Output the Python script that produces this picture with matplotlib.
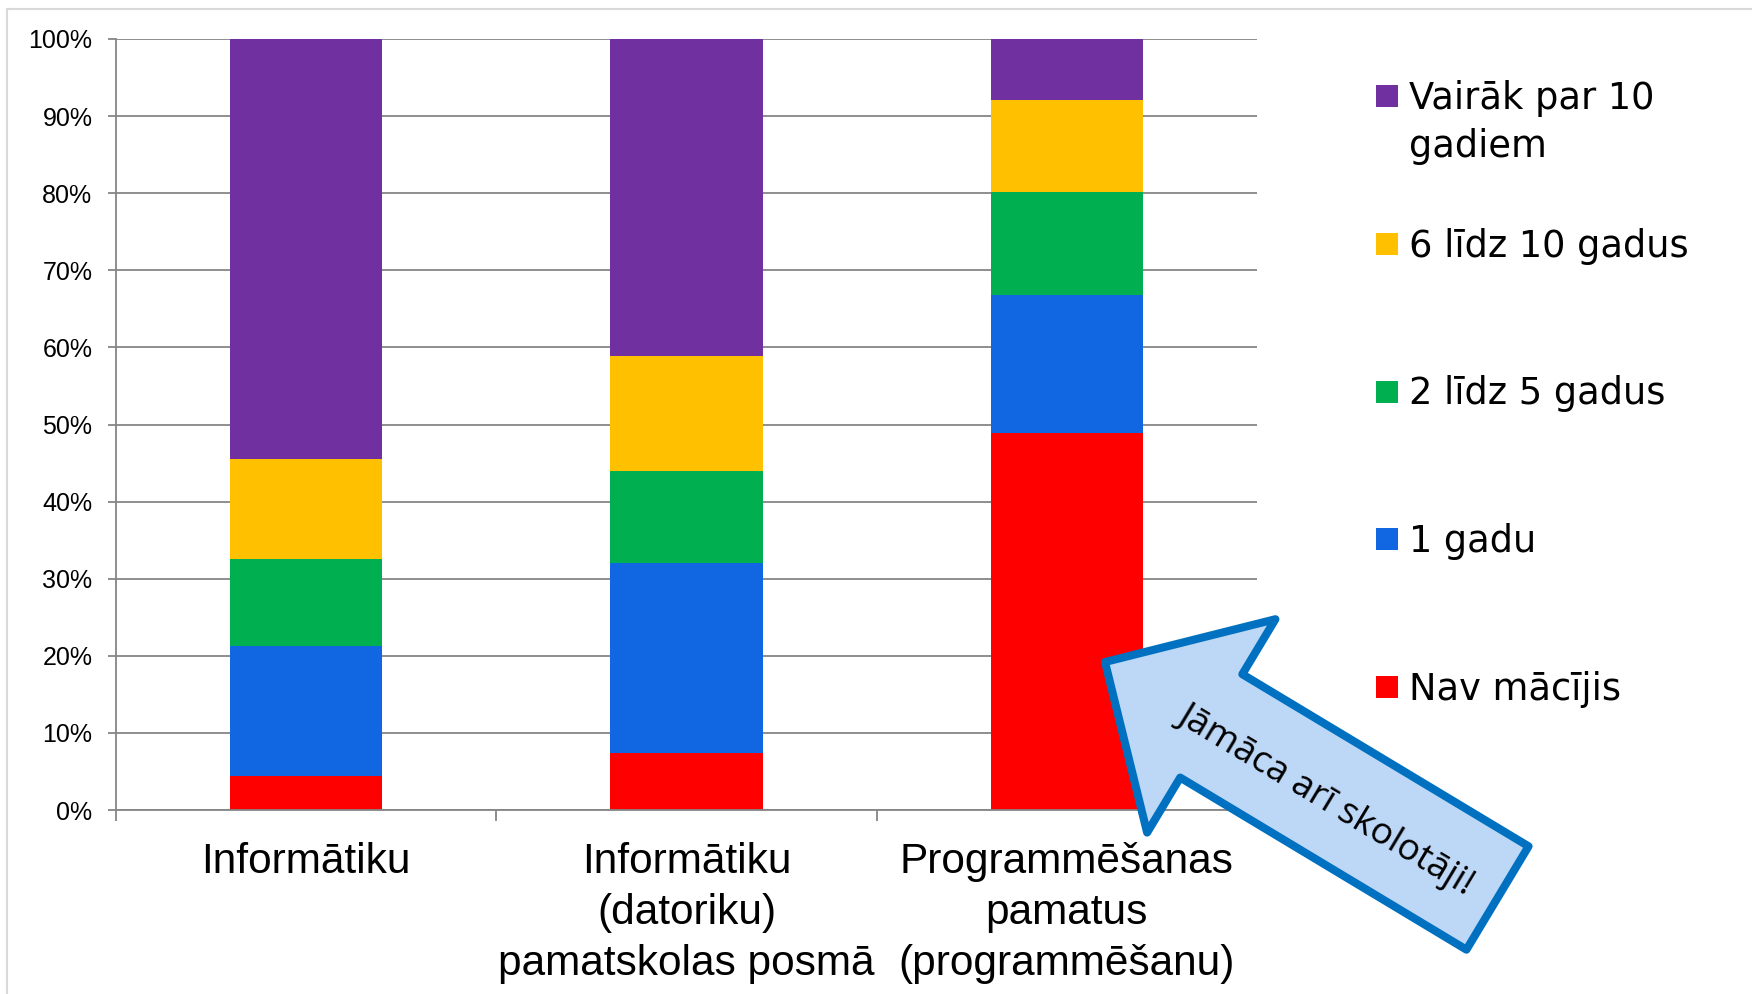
#!/usr/bin/env python3
"""
Skolotāju pieredze informātikas mācīšanā - sagrupēts 100% stabiņu grafiks
"""

import matplotlib
matplotlib.use("Agg")
import matplotlib.pyplot as plt
from matplotlib.patches import Rectangle, FancyArrow
from matplotlib.lines import Line2D

# Dati (procenti, lasīti no attēla)
CATEGORIES = ["Informātiku",
              "Informātiku\n(datoriku)\npamatskolas posmā",
              "Programmēšanas\npamatus\n(programmēšanu)"]
NAV_MACIJIS = [4.45, 7.35, 48.9]
GADS_1 = [16.8, 24.75, 17.9]
GADI_2_5 = [11.35, 11.9, 13.35]
GADI_6_10 = [12.9, 14.9, 11.95]
VAIRAK_10 = [54.5, 41.1, 7.9]

SERIES_LABELS = ["Nav mācījis", "1 gadu", "2 līdz 5 gadus",
                 "6 līdz 10 gadus", "Vairāk par 10\ngadiem"]
SERIES_COLORS = ["#FF0000", "#1166E1", "#00B050", "#FFC000", "#7030A0"]
Y_TICKS = [0, 10, 20, 30, 40, 50, 60, 70, 80, 90, 100]
ARROW_TEXT = "Jāmāca arī skolotāji!"

GRID = "#868686"
W, H, DPI = 1752, 994, 100


def px(x, y):
    """attēla pikseļi (no augšas) -> collas figūrā"""
    return x / DPI, (H - y) / DPI


def main():
    plt.rcParams['font.family'] = ['Liberation Sans', 'DejaVu Sans']
    fig = plt.figure(figsize=(W / DPI, H / DPI), dpi=DPI)
    ax = fig.add_axes([116 / W, (H - 810) / H, 1141 / W, 771 / H])

    series = [NAV_MACIJIS, GADS_1, GADI_2_5, GADI_6_10, VAIRAK_10]
    x = list(range(len(CATEGORIES)))
    bottom = [0.0] * len(x)
    for values, color, label in zip(series, SERIES_COLORS, SERIES_LABELS):
        ax.bar(x, values, width=0.4, bottom=bottom, color=color,
               label=label, zorder=2, edgecolor='none')
        bottom = [b + v for b, v in zip(bottom, values)]

    ax.set_xlim(-0.5, len(x) - 0.5)
    ax.set_ylim(0, 100)
    ax.set_yticks(Y_TICKS)
    ax.set_yticklabels([f"{t}%" for t in Y_TICKS], fontsize=18)
    ax.yaxis.grid(True, color=GRID, linewidth=1.3, zorder=0)
    ax.set_axisbelow(True)

    # kategoriju robežas + paraksti centrā
    ax.set_xticks([i - 0.5 for i in range(len(x) + 1)])
    ax.set_xticklabels([])
    ax.set_xticks(x, minor=True)
    ax.set_xticklabels(CATEGORIES, minor=True, fontsize=30.5,
                       linespacing=1.36)
    ax.tick_params(axis='x', which='major', length=8, width=1.3,
                   color=GRID, direction='out')
    ax.tick_params(axis='x', which='minor', length=0, pad=23)
    ax.tick_params(axis='y', length=6, width=1.3, color=GRID, pad=11)

    for side in ['top', 'right']:
        ax.spines[side].set_visible(False)
    for side in ['left', 'bottom']:
        ax.spines[side].set_color(GRID)
        ax.spines[side].set_linewidth(1.3)

    # leģenda (augšā pēdējā sērija), katra rinda atsevišķi
    y0, step, line_step = 96, 147.75, 48
    for i, (label, color) in enumerate(zip(SERIES_LABELS[::-1],
                                           SERIES_COLORS[::-1])):
        yc = y0 + i * step
        fig.add_artist(Rectangle(px(1376, yc + 11), 22 / DPI, 22 / DPI,
                                 transform=fig.dpi_scale_trans,
                                 facecolor=color, edgecolor='none'))
        for j, line in enumerate(label.split("\n")):
            fig.text(*px(1409, yc + 13 + j * line_step), line,
                     transform=fig.dpi_scale_trans, fontsize=26.5,
                     family='DejaVu Sans', va='baseline', ha='left')

    # rāmis ap diagrammu
    fig.add_artist(Line2D([7 / W, 1], [1 - 9 / H] * 2, color='#D9D9D9',
                          linewidth=1.5, transform=fig.transFigure))
    fig.add_artist(Line2D([7 / W] * 2, [0, 1 - 9 / H], color='#D9D9D9',
                          linewidth=1.5, transform=fig.transFigure))

    # bulta ar uzrakstu
    tx, ty = px(1497.5, 898)
    hx, hy = px(1105, 662)
    fig.add_artist(FancyArrow(tx, ty, hx - tx, hy - ty, width=1.206,
                              head_width=2.49, head_length=1.24,
                              length_includes_head=True,
                              transform=fig.dpi_scale_trans,
                              facecolor='#BDD7F6', edgecolor='#0070C0',
                              linewidth=5.8, joinstyle='round', zorder=5))
    fig.text(*px(1326, 800), ARROW_TEXT, transform=fig.dpi_scale_trans,
             fontsize=26.5, family='Open Sans', rotation=-31,
             rotation_mode='anchor', ha='center', va='center', zorder=6)

    fig.savefig("out.png", dpi=DPI, facecolor='white')


if __name__ == "__main__":
    main()
